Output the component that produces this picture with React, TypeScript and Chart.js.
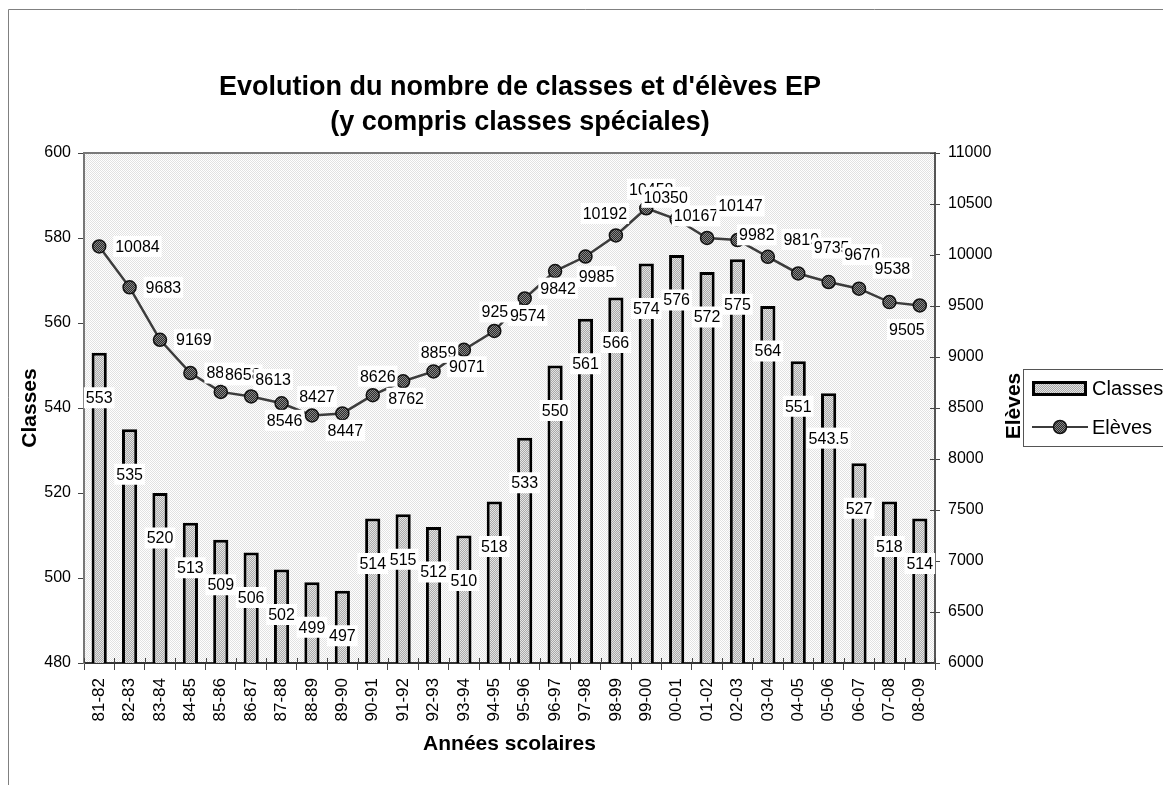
import React, { useEffect, useRef } from "react";
import { Chart, registerables } from "chart.js";

Chart.register(...registerables);

// ---------- data ----------
const CATEGORIES = [
  "81-82", "82-83", "83-84", "84-85", "85-86", "86-87", "87-88", "88-89", "89-90", "90-91",
  "91-92", "92-93", "93-94", "94-95", "95-96", "96-97", "97-98", "98-99", "99-00", "00-01",
  "01-02", "02-03", "03-04", "04-05", "05-06", "06-07", "07-08", "08-09",
];
const CLASSES = [
  553, 535, 520, 513, 509, 506, 502, 499, 497, 514,
  515, 512, 510, 518, 533, 550, 561, 566, 574, 576,
  572, 575, 564, 551, 543.5, 527, 518, 514,
];
const ELEVES = [
  10084, 9683, 9169, 8843, 8658, 8613, 8546, 8427, 8447, 8626,
  8762, 8859, 9071, 9255, 9574, 9842, 9985, 10192, 10458, 10350,
  10167, 10147, 9982, 9819, 9735, 9670, 9538, 9505,
];
const LEFT_AXIS = { min: 480, max: 600, step: 20 };
const RIGHT_AXIS = { min: 6000, max: 11000, step: 500 };
const TITLE_LINES = ["Evolution du nombre de classes et d'élèves EP", "(y compris classes spéciales)"];
const SERIES_NAMES = ["Classes", "Elèves"];
const AXIS_TITLES = { x: "Années scolaires", left: "Classes", right: "Elèves" };
// placement of the line's value labels (r=right, a=above, b=below, ...)
const LINE_LABEL_PLACES = [
  "r", "r", "r", "r", "ar", "ar", "b", "a", "b", "a",
  "b", "a", "b", "a", "b", "b", "br", "al", "a", "al",
  "al", "A", "al", "A", "A", "A", "A", "bl",
];

// ---------- styles ----------
const FONT = "'Liberation Sans', Arial, Helvetica, sans-serif";
const PLACE_OFFSETS: Record<string, [number, number]> = {
  ar: [22, -17],
  a: [5, -19],
  b: [3, 17],
  br: [11, 20],
  al: [-11, -22],
  A: [3, -34],
  bl: [-13, 24],
};

function checker(a: string, b: string): CanvasPattern | string {
  const c = document.createElement("canvas");
  c.width = 2;
  c.height = 2;
  const g = c.getContext("2d");
  if (!g) return a;
  g.fillStyle = a;
  g.fillRect(0, 0, 2, 2);
  g.fillStyle = b;
  g.fillRect(0, 0, 1, 1);
  g.fillRect(1, 1, 1, 1);
  return g.createPattern(c, "repeat") || a;
}

function labelBox(ctx: CanvasRenderingContext2D, text: string, cx: number, cy: number, align: "center" | "left") {
  ctx.font = `16px ${FONT}`;
  const w = ctx.measureText(text).width;
  const h = 21;
  const left = align === "center" ? cx - w / 2 : cx;
  ctx.fillStyle = "#ffffff";
  ctx.fillRect(left - 2, cy - h / 2, w + 4, h);
  ctx.fillStyle = "#000000";
  ctx.textAlign = "left";
  ctx.textBaseline = "middle";
  ctx.fillText(text, left, cy + 1);
}

export default function App() {
  const ref = useRef<HTMLCanvasElement | null>(null);

  useEffect(() => {
    const canvas = ref.current;
    if (!canvas) return;
    const plotBg = checker("#ffffff", "#e2e2e2");
    const barFill = checker("#a8a8a8", "#e4e4e4");
    const dotFill = checker("#2a2a2a", "#8a8a8a");
    const lineColor = "#3c3c3c";

    const decor = {
      id: "decor",
      beforeDraw(chart: any) {
        const { ctx, chartArea: a } = chart;
        ctx.save();
        ctx.fillStyle = "#ffffff";
        ctx.fillRect(0, 0, chart.width, chart.height);
        // outer frame
        ctx.strokeStyle = "#808080";
        ctx.lineWidth = 1;
        ctx.beginPath();
        ctx.moveTo(8.5, chart.height);
        ctx.lineTo(8.5, 9.5);
        ctx.lineTo(chart.width, 9.5);
        ctx.stroke();
        // plot background
        ctx.fillStyle = plotBg;
        ctx.fillRect(a.left, a.top, a.right - a.left, a.bottom - a.top);
        // top edge of plot
        ctx.strokeStyle = "#7a7a7a";
        ctx.lineWidth = 2;
        ctx.beginPath();
        ctx.moveTo(a.left, a.top);
        ctx.lineTo(a.right, a.top);
        ctx.stroke();
        ctx.restore();
      },
      afterDraw(chart: any) {
        const { ctx, chartArea: a } = chart;
        const yl = chart.scales.y;
        const yr = chart.scales.y1;
        ctx.save();
        // inner halves of crossing ticks
        ctx.strokeStyle = "#444";
        ctx.lineWidth = 1;
        ctx.beginPath();
        yr.ticks.forEach((t: any) => {
          const y = Math.round(yr.getPixelForValue(t.value)) + 0.5;
          ctx.moveTo(a.right - 5, y);
          ctx.lineTo(a.right, y);
        });
        const n = CATEGORIES.length;
        for (let i = 0; i <= n; i++) {
          const x = Math.round(a.left + ((a.right - a.left) * i) / n) + 0.5;
          ctx.moveTo(x, a.bottom - 5);
          ctx.lineTo(x, a.bottom);
        }
        ctx.stroke();

        // title
        ctx.fillStyle = "#000";
        ctx.font = `bold 27px ${FONT}`;
        ctx.textAlign = "center";
        ctx.textBaseline = "middle";
        ctx.fillText(TITLE_LINES[0], 520, 88);
        ctx.fillText(TITLE_LINES[1], 520, 123);

        // right axis title (reads bottom to top)
        ctx.save();
        ctx.translate(1014, 406);
        ctx.rotate(-Math.PI / 2);
        ctx.font = `bold 21px ${FONT}`;
        ctx.textAlign = "center";
        ctx.textBaseline = "middle";
        ctx.fillText(AXIS_TITLES.right, 0, 0);
        ctx.restore();

        // bar value labels
        const barMeta = chart.getDatasetMeta(1);
        barMeta.data.forEach((el: any, i: number) => {
          const y = yl.getPixelForValue(CLASSES[i]) + 45;
          labelBox(ctx, String(CLASSES[i]), el.x, y, "center");
        });
        // line value labels
        const lineMeta = chart.getDatasetMeta(0);
        lineMeta.data.forEach((el: any, i: number) => {
          const place = LINE_LABEL_PLACES[i];
          const txt = String(ELEVES[i]);
          if (place === "r") {
            labelBox(ctx, txt, el.x + 16, el.y, "left");
          } else {
            const [dx, dy] = PLACE_OFFSETS[place] || [0, -19];
            labelBox(ctx, txt, el.x + dx, el.y + dy, "center");
          }
        });

        // legend
        const lx = 1023;
        const ly = 369;
        ctx.fillStyle = "#ffffff";
        ctx.fillRect(lx, ly, 200, 78);
        ctx.strokeStyle = "#555";
        ctx.lineWidth = 1;
        ctx.strokeRect(lx + 0.5, ly + 0.5, 200, 77);
        // bar swatch
        ctx.fillStyle = barFill;
        ctx.fillRect(1033, 382, 53, 13);
        ctx.strokeStyle = "#000";
        ctx.lineWidth = 3;
        ctx.strokeRect(1033.5, 382.5, 52, 12);
        // line swatch
        ctx.strokeStyle = lineColor;
        ctx.lineWidth = 2;
        ctx.beginPath();
        ctx.moveTo(1032, 427);
        ctx.lineTo(1088, 427);
        ctx.stroke();
        ctx.beginPath();
        ctx.arc(1060, 427, 6.5, 0, Math.PI * 2);
        ctx.fillStyle = dotFill;
        ctx.fill();
        ctx.strokeStyle = "#111";
        ctx.lineWidth = 1.5;
        ctx.stroke();
        ctx.fillStyle = "#000";
        ctx.font = `20px ${FONT}`;
        ctx.textAlign = "left";
        ctx.textBaseline = "middle";
        ctx.fillText(SERIES_NAMES[0], 1092, 389);
        ctx.fillText(SERIES_NAMES[1], 1092, 428);
        ctx.restore();
      },
    };

    const tickFont = { family: FONT, size: 16 };
    const plain = (v: any) => String(v);
    const chart = new Chart(canvas, {
      data: {
        labels: CATEGORIES,
        datasets: [
          {
            type: "line",
            label: SERIES_NAMES[1],
            data: ELEVES,
            yAxisID: "y1",
            order: 0,
            borderColor: lineColor,
            borderWidth: 2.5,
            tension: 0,
            pointRadius: 6.5,
            pointBackgroundColor: dotFill as any,
            pointBorderColor: "#111",
            pointBorderWidth: 1.5,
          },
          {
            type: "bar",
            label: SERIES_NAMES[0],
            data: CLASSES,
            yAxisID: "y",
            order: 1,
            backgroundColor: barFill as any,
            borderColor: "#000",
            borderWidth: 3,
            borderSkipped: "bottom",
            barPercentage: 0.5,
            categoryPercentage: 1.0,
          },
        ],
      } as any,
      options: {
        responsive: false,
        animation: false,
        events: [],
        layout: { padding: { left: 0, top: 153, right: 135, bottom: 0 } },
        plugins: {
          legend: { display: false },
          title: { display: false },
          tooltip: { enabled: false },
        },
        scales: {
          x: {
            type: "category",
            offset: true,
            afterFit: (s: any) => {
              s.height = 122;
            },
            grid: { drawOnChartArea: false, tickLength: 7, color: "#444", offset: true },
            border: { display: true, color: "#333", width: 2 },
            ticks: {
              minRotation: 90,
              maxRotation: 90,
              autoSkip: false,
              padding: 8,
              color: "#000",
              font: { family: FONT, size: 17 },
            },
            title: {
              display: true,
              text: AXIS_TITLES.x,
              color: "#000",
              font: { family: FONT, size: 21, weight: "bold" },
              padding: { top: 0, bottom: 28 },
            },
          },
          y: {
            type: "linear",
            position: "left",
            min: LEFT_AXIS.min,
            max: LEFT_AXIS.max,
            afterFit: (s: any) => {
              s.width = 84;
            },
            grid: { drawOnChartArea: false, tickLength: 6, color: "#444" },
            border: { display: true, color: "#777", width: 2 },
            ticks: { stepSize: LEFT_AXIS.step, padding: 7, color: "#000", font: tickFont, callback: plain },
            title: {
              display: true,
              text: AXIS_TITLES.left,
              color: "#000",
              font: { family: FONT, size: 21, weight: "bold" },
              padding: { top: 18, bottom: 0 },
            },
          },
          y1: {
            type: "linear",
            position: "right",
            min: RIGHT_AXIS.min,
            max: RIGHT_AXIS.max,
            afterFit: (s: any) => {
              s.width = 93;
            },
            grid: { drawOnChartArea: false, tickLength: 5, color: "#444" },
            border: { display: true, color: "#555", width: 2 },
            ticks: { stepSize: RIGHT_AXIS.step, padding: 8, color: "#000", font: tickFont, callback: plain },
            title: { display: false },
          },
        },
      } as any,
      plugins: [decor],
    });
    return () => chart.destroy();
  }, []);

  return (
    <div style={{ position: "fixed", left: 0, top: 0, width: 1163, height: 785, background: "#fff" }}>
      <canvas ref={ref} width={1163} height={785} style={{ width: 1163, height: 785, display: "block" }} />
    </div>
  );
}
